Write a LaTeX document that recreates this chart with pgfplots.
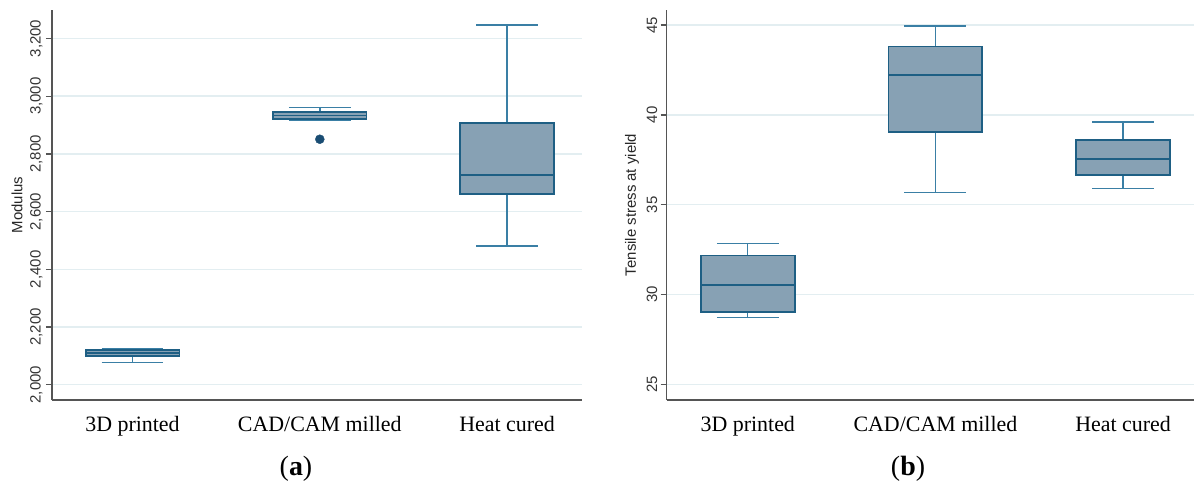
\documentclass[border=0pt]{standalone}
\usepackage{fontspec}
\setmainfont{Liberation Serif}
\setsansfont{Liberation Sans}
\usepackage{pgfplots}
\pgfplotsset{compat=1.18}
\definecolor{boxfill}{HTML}{87A1B4}
\definecolor{boxedge}{HTML}{1E5F84}
\definecolor{whisk}{HTML}{3A7FA5}
\definecolor{gridc}{HTML}{E3EEF1}
\definecolor{axc}{HTML}{555555}
\definecolor{outl}{HTML}{1A4D73}
\pgfplotsset{
 mystyle/.style={
  scale only axis,
  axis x line=bottom, axis y line=left,
  axis line style={-, color=axc, line width=1.3bp},
  xtick={1,2,3},
  xticklabels={3D printed, CAD/CAM milled, Heat cured},
  x tick label style={font=\fontsize{22}{26}\selectfont, anchor=base, yshift=-25bp, inner sep=0pt},
  xtick style={draw=none},
  y tick label style={font=\sffamily\fontsize{15}{18}\selectfont, rotate=90, anchor=south, text=black!80},
  yticklabel={\pgfmathprintnumber[1000 sep={,}, assume math mode=true]{\tick}},
  ytick style={color=axc, line width=1.2bp},
  tick align=outside, major tick length=6bp,
  ymajorgrids, grid style={color=gridc, line width=1.5bp},
  every axis y label/.style={at={(axis description cs:0,0.5)}, rotate=90, anchor=center, font=\sffamily\fontsize{15}{18}\selectfont, text=black!85, yshift=#1},
  wh/.style={draw=whisk, line width=1.4bp, mark=none},
  bx/.style={draw=boxedge, fill=boxfill, line width=1.7bp, mark=none},
  md/.style={draw=boxedge, line width=1.7bp, mark=none},
 },
}
\begin{document}
\begin{tikzpicture}
\useasboundingbox (0,0) rectangle (1194bp,486bp);
\begin{axis}[mystyle=35bp, at={(52bp,86bp)}, anchor=south west, width=530bp, height=390bp,
  xmin=0.57, xmax=3.40, ymin=1947, ymax=3299,
  ytick={2000,2200,2400,2600,2800,3000,3200},
  ylabel={Modulus}]
% 3D printed
\addplot[wh] coordinates {(1,2076) (1,2099)};
\addplot[wh] coordinates {(1,2120) (1,2126)};
\addplot[wh] coordinates {(0.835,2076) (1.165,2076)};
\addplot[wh] coordinates {(0.835,2126) (1.165,2126)};
\addplot[bx] coordinates {(0.75,2099) (1.25,2099) (1.25,2120) (0.75,2120)} -- cycle;
\addplot[md] coordinates {(0.75,2109) (1.25,2109)};
% CAD/CAM milled
\addplot[wh] coordinates {(2,2917) (2,2920)};
\addplot[wh] coordinates {(2,2945) (2,2962)};
\addplot[wh] coordinates {(1.835,2917) (2.165,2917)};
\addplot[wh] coordinates {(1.835,2962) (2.165,2962)};
\addplot[bx] coordinates {(1.75,2920) (2.25,2920) (2.25,2945) (1.75,2945)} -- cycle;
\addplot[md] coordinates {(1.75,2933) (2.25,2933)};
\addplot[only marks, mark=*, mark size=4.5bp, mark options={draw=outl, fill=outl}] coordinates {(2,2851)};
% Heat cured
\addplot[wh] coordinates {(3,2481) (3,2661)};
\addplot[wh] coordinates {(3,2908) (3,3247)};
\addplot[wh] coordinates {(2.835,2481) (3.165,2481)};
\addplot[wh] coordinates {(2.835,3247) (3.165,3247)};
\addplot[bx] coordinates {(2.75,2661) (3.25,2661) (3.25,2908) (2.75,2908)} -- cycle;
\addplot[md] coordinates {(2.75,2727) (3.25,2727)};
\end{axis}
\begin{axis}[mystyle=34.7bp, at={(666.7bp,86bp)}, anchor=south west, width=527.3bp, height=390bp,
  xmin=0.568, xmax=3.378, ymin=24.13, ymax=45.84,
  ytick={25,30,35,40,45},
  ylabel={Tensile stress at yield}]
% 3D printed
\addplot[wh] coordinates {(1,28.71) (1,29.01)};
\addplot[wh] coordinates {(1,32.18) (1,32.83)};
\addplot[wh] coordinates {(0.835,28.71) (1.165,28.71)};
\addplot[wh] coordinates {(0.835,32.83) (1.165,32.83)};
\addplot[bx] coordinates {(0.75,29.01) (1.25,29.01) (1.25,32.18) (0.75,32.18)} -- cycle;
\addplot[md] coordinates {(0.75,30.53) (1.25,30.53)};
% CAD/CAM milled
\addplot[wh] coordinates {(2,35.67) (2,39.03)};
\addplot[wh] coordinates {(2,43.80) (2,44.95)};
\addplot[wh] coordinates {(1.835,35.67) (2.165,35.67)};
\addplot[wh] coordinates {(1.835,44.95) (2.165,44.95)};
\addplot[bx] coordinates {(1.75,39.03) (2.25,39.03) (2.25,43.80) (1.75,43.80)} -- cycle;
\addplot[md] coordinates {(1.75,42.24) (2.25,42.24)};
% Heat cured
\addplot[wh] coordinates {(3,35.91) (3,36.67)};
\addplot[wh] coordinates {(3,38.59) (3,39.60)};
\addplot[wh] coordinates {(2.835,35.91) (3.165,35.91)};
\addplot[wh] coordinates {(2.835,39.60) (3.165,39.60)};
\addplot[bx] coordinates {(2.75,36.67) (3.25,36.67) (3.25,38.59) (2.75,38.59)} -- cycle;
\addplot[md] coordinates {(2.75,37.54) (3.25,37.54)};
\end{axis}
\node[font=\fontsize{28}{32}\selectfont] at (296bp,17bp) {(\textbf{a})};
\node[font=\fontsize{28}{32}\selectfont] at (908bp,17bp) {(\textbf{b})};
\end{tikzpicture}
\end{document}
